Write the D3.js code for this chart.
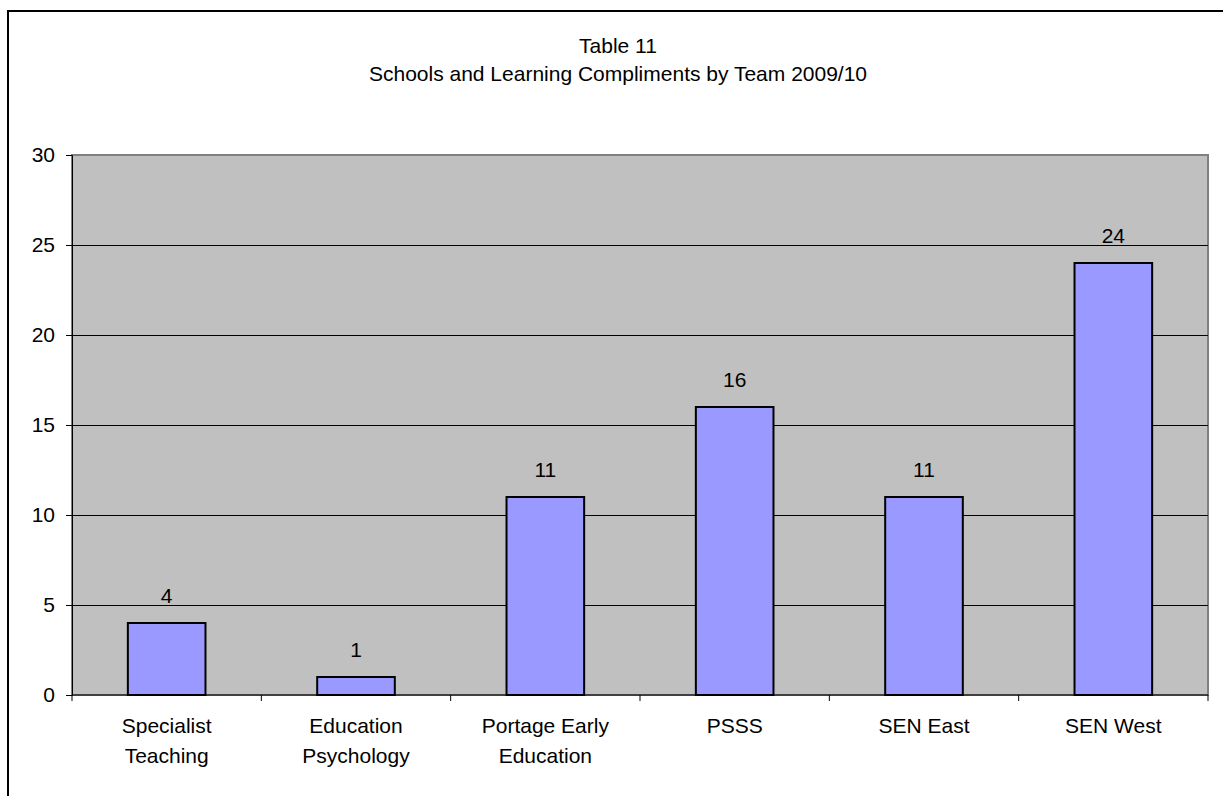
<!DOCTYPE html>
<html>
<head>
<meta charset="utf-8">
<script src="https://cdn.jsdelivr.net/npm/d3@7"></script>
<style>
  html, body { margin: 0; padding: 0; background: #fff; overflow: hidden; }
  svg { display: block; font-family: "Liberation Sans", Arial, sans-serif; }
</style>
</head>
<body>
<svg id="chart" width="1223" height="796"></svg>
<script>
// Compliments received per team, 2009/10
const teams = [
  ["Specialist", "Teaching"],
  ["Education", "Psychology"],
  ["Portage Early", "Education"],
  ["PSSS"],
  ["SEN East"],
  ["SEN West"]
];
const compliments = [4, 1, 11, 16, 11, 24];
const yTicks = [0, 5, 10, 15, 20, 25, 30];
const titleLines = ["Table 11", "Schools and Learning Compliments by Team 2009/10"];

const FONT = 21;
const svg = d3.select("#chart");
const plot = { left: 72, top: 155, right: 1208, bottom: 695 };

// outer chart frame (runs past the right and bottom edges)
svg.append("rect")
  .attr("x", 8).attr("y", 11)
  .attr("width", 1240).attr("height", 820)
  .attr("fill", "#fff").attr("stroke", "#000").attr("stroke-width", 2);

// title
svg.append("g").selectAll("text").data(titleLines).join("text")
  .attr("x", 618).attr("y", (d, i) => 53 + i * 28)
  .attr("text-anchor", "middle")
  .attr("font-size", FONT).attr("fill", "#000")
  .text(d => d);

const x = d3.scaleBand()
  .domain(d3.range(teams.length))
  .range([plot.left, plot.right])
  .paddingInner(0.59).paddingOuter(0.295);
const band = d3.scaleBand().domain(d3.range(teams.length)).range([plot.left, plot.right]);

const y = d3.scaleLinear().domain([0, 30]).range([plot.bottom, plot.top]);

// plot background
svg.append("rect")
  .attr("x", plot.left).attr("y", plot.top)
  .attr("width", plot.right - plot.left).attr("height", plot.bottom - plot.top)
  .attr("fill", "#c0c0c0").attr("stroke", "#808080").attr("stroke-width", 2);

// horizontal gridlines
svg.append("g").selectAll("line").data(yTicks.filter(v => v > 0 && v < 30)).join("line")
  .attr("x1", plot.left).attr("x2", plot.right)
  .attr("y1", d => y(d)).attr("y2", d => y(d))
  .attr("stroke", "#000").attr("stroke-width", 1)
  .attr("shape-rendering", "crispEdges");

// bars
svg.append("g").selectAll("rect").data(compliments).join("rect")
  .attr("x", (d, i) => x(i)).attr("width", x.bandwidth())
  .attr("y", d => y(d)).attr("height", d => y(0) - y(d))
  .attr("fill", "#9999ff").attr("stroke", "#000").attr("stroke-width", 2);

// value labels
svg.append("g").selectAll("text").data(compliments).join("text")
  .attr("x", (d, i) => x(i) + x.bandwidth() / 2)
  .attr("y", d => y(d) - 20)
  .attr("text-anchor", "middle").attr("font-size", FONT).attr("fill", "#000")
  .text(d => d);

// y axis
const yAxis = d3.axisLeft(y).tickValues(yTicks).tickSize(6).tickPadding(11);
const gy = svg.append("g").attr("transform", `translate(${plot.left},0)`).call(yAxis);
gy.select(".domain").attr("stroke", "#000").attr("stroke-width", 1);
gy.selectAll(".tick line").attr("stroke", "#000");
gy.selectAll(".tick text").attr("font-size", FONT).attr("fill", "#000")
  .attr("font-family", "Liberation Sans, Arial, sans-serif");

// x axis line with category boundary ticks
svg.append("line")
  .attr("x1", plot.left).attr("x2", plot.right)
  .attr("y1", plot.bottom).attr("y2", plot.bottom)
  .attr("stroke", "#000").attr("stroke-width", 1);
const bounds = d3.range(teams.length + 1).map(i => i < teams.length ? band(i) : plot.right);
svg.append("g").selectAll("line").data(bounds).join("line")
  .attr("x1", d => d).attr("x2", d => d)
  .attr("y1", plot.bottom).attr("y2", plot.bottom + 6)
  .attr("stroke", "#000").attr("stroke-width", 1);

// category labels
const cat = svg.append("g").selectAll("text").data(teams).join("text")
  .attr("text-anchor", "middle").attr("font-size", FONT).attr("fill", "#000")
  .attr("transform", (d, i) => `translate(${band(i) + band.bandwidth() / 2},${plot.bottom + 38})`);
cat.selectAll("tspan").data(d => d).join("tspan")
  .attr("x", 0).attr("dy", (d, i) => i === 0 ? 0 : 30)
  .text(d => d);
</script>
</body>
</html>
